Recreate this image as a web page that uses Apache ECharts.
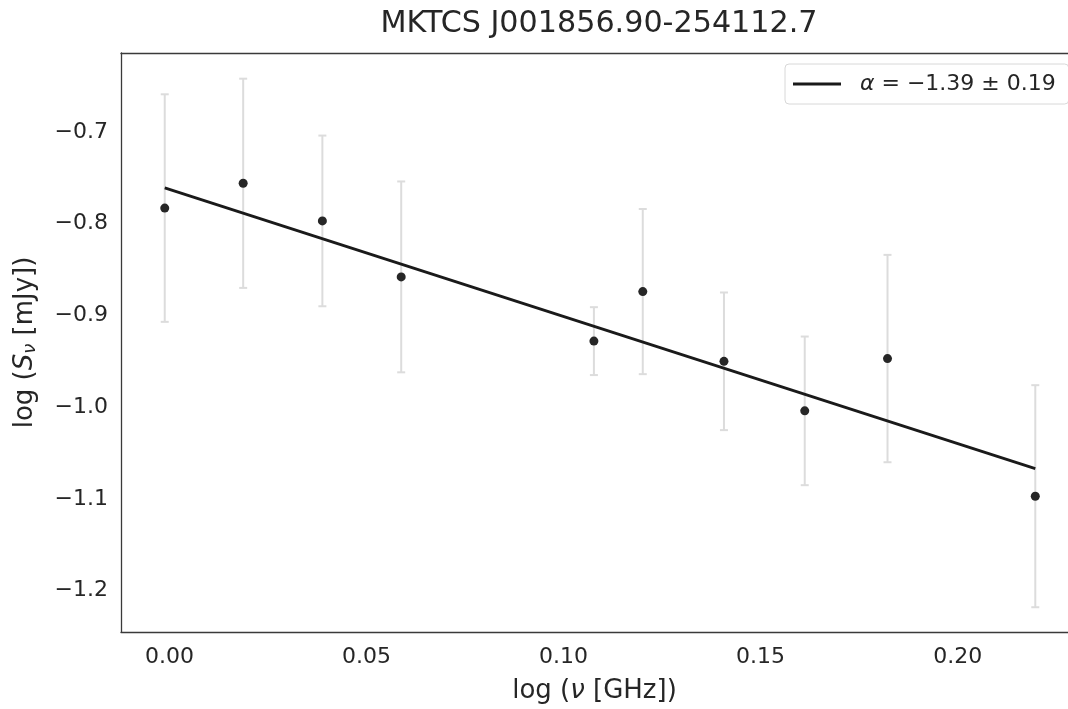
<!DOCTYPE html>
<html>
<head>
<meta charset="utf-8">
<script src="https://cdn.jsdelivr.net/npm/echarts@6/dist/echarts.min.js"></script>
<style>
html,body{margin:0;padding:0;background:#fff;overflow:hidden;}
#chart{width:1068px;height:709px;}
</style>
</head>
<body>
<div id="chart"></div>
<script>
// Data
const logFreq = [-0.0012, 0.0187, 0.0388, 0.0588, 0.1077, 0.1201, 0.1407, 0.1612, 0.1822, 0.2197];
const logFlux = [-0.783, -0.756, -0.797, -0.858, -0.928, -0.874, -0.950, -1.004, -0.947, -1.097];
const fluxErr = [0.124, 0.114, 0.093, 0.104, 0.037, 0.090, 0.075, 0.081, 0.113, 0.121];
const fitX = [-0.0012, 0.2197];
const fitY = [-0.761, -1.067];
const xTicks = [0.00, 0.05, 0.10, 0.15, 0.20];
const yTicks = [-1.2, -1.1, -1.0, -0.9, -0.8, -0.7];
const titleText = 'MKTCS J001856.90-254112.7';

const FONT = 'DejaVu Sans';
const SPINE = {show: true, onZero: false, lineStyle: {color: '#3a3a3a', width: 1.3}};
const points = logFreq.map((x, i) => [x, logFlux[i]]);
const errData = logFreq.map((x, i) => [x, logFlux[i] - fluxErr[i], logFlux[i] + fluxErr[i]]);
const fitData = fitX.map((x, i) => [x, fitY[i]]);

const chart = echarts.init(document.getElementById('chart'), null, {renderer: 'canvas'});
chart.setOption({
  animation: false,
  backgroundColor: '#ffffff',
  title: {
    text: titleText,
    left: 594,
    top: 4,
    textAlign: 'center',
    textStyle: {fontFamily: FONT, fontSize: 30.2, fontWeight: 'normal', color: '#262626'}
  },
  legend: {
    data: [{name: 'fit', icon: 'path://M0,0 L48,0 L48,3 L0,3 Z'}],
    left: 785,
    top: 64,
    orient: 'vertical',
    padding: [9, 13, 9, 8],
    itemWidth: 48,
    itemHeight: 3,
    borderColor: '#d8d8d8',
    borderWidth: 1,
    borderRadius: 4,
    backgroundColor: '#ffffff',
    formatter: function () { return '{a|α} = −1.39 ± 0.19'; },
    textStyle: {
      fontFamily: FONT, fontSize: 22, color: '#262626', padding: [0, 0, 0, 14],
      rich: {a: {fontFamily: FONT, fontSize: 22, fontStyle: 'italic', color: '#262626'}}
    }
  },
  grid: {
    left: 121, right: 0, top: 53, bottom: 76,
    show: false
  },
  xAxis: [{
    type: 'value',
    min: -0.0123, max: 0.2280,
    position: 'bottom',
    name: 'log ({n|ν} [GHz])',
    nameLocation: 'middle',
    nameGap: 46,
    nameTextStyle: {
      fontFamily: FONT, fontSize: 26, color: '#262626',
      rich: {n: {fontFamily: FONT, fontSize: 26, fontStyle: 'italic', color: '#262626'}}
    },
    axisLine: SPINE,
    axisTick: {show: false},
    splitLine: {show: false},
    axisLabel: {
      customValues: xTicks,
      margin: 14,
      fontFamily: FONT, fontSize: 22, color: '#262626',
      formatter: v => v.toFixed(2)
    }
  }, {
    type: 'value',
    min: -0.0123, max: 0.2280,
    position: 'top',
    axisLine: SPINE,
    axisTick: {show: false},
    axisLabel: {show: false},
    splitLine: {show: false}
  }],
  yAxis: {
    type: 'value',
    min: -1.245, max: -0.614,
    position: 'left',
    name: 'log ({s|S}{sub|ν} [mJy])',
    nameLocation: 'middle',
    nameGap: 82,
    nameRotate: 90,
    nameTextStyle: {
      fontFamily: FONT, fontSize: 26, color: '#262626',
      rich: {
        s: {fontFamily: FONT, fontSize: 26, fontStyle: 'italic', color: '#262626'},
        sub: {fontFamily: FONT, fontSize: 18, fontStyle: 'italic', color: '#262626', padding: [10, 0, 0, 0]}
      }
    },
    axisLine: SPINE,
    axisTick: {show: false},
    splitLine: {show: false},
    axisLabel: {
      customValues: yTicks,
      margin: 13,
      fontFamily: FONT, fontSize: 22, color: '#262626',
      formatter: v => v.toFixed(1).replace('-', '−')
    }
  },
  series: [
    {
      type: 'custom',
      name: 'err',
      data: errData,
      z: 1,
      silent: true,
      renderItem: function (params, api) {
        const x = api.value(0);
        const lo = api.coord([x, api.value(1)]);
        const hi = api.coord([x, api.value(2)]);
        const cap = 4;
        const style = {stroke: '#dcdcdc', lineWidth: 2, fill: null};
        return {
          type: 'group',
          children: [
            {type: 'line', shape: {x1: lo[0], y1: lo[1], x2: hi[0], y2: hi[1]}, style: style},
            {type: 'line', shape: {x1: lo[0] - cap, y1: lo[1], x2: lo[0] + cap, y2: lo[1]}, style: style},
            {type: 'line', shape: {x1: hi[0] - cap, y1: hi[1], x2: hi[0] + cap, y2: hi[1]}, style: style}
          ]
        };
      }
    },
    {
      type: 'line',
      name: 'fit',
      data: fitData,
      z: 3,
      showSymbol: false,
      symbol: 'none',
      lineStyle: {color: '#1a1a1a', width: 2.8},
      itemStyle: {color: '#1a1a1a'}
    },
    {
      type: 'scatter',
      name: 'data',
      data: points,
      z: 4,
      symbol: 'circle',
      symbolSize: 9,
      itemStyle: {color: '#262626', opacity: 1}
    }
  ]
});
</script>
</body>
</html>
